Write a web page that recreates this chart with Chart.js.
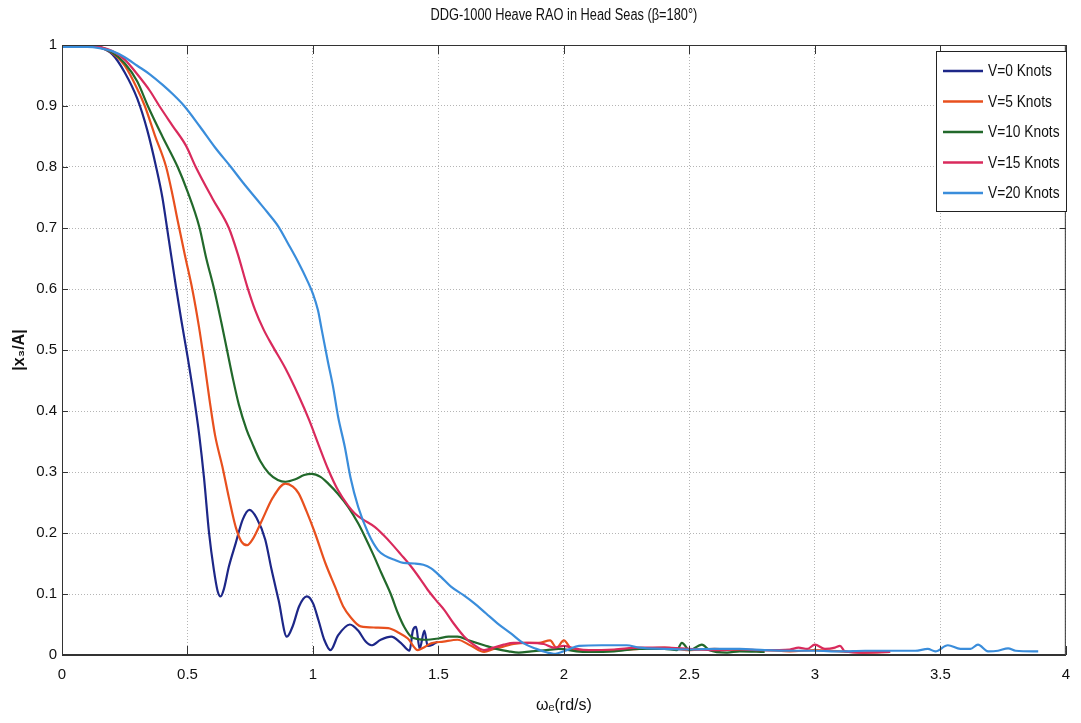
<!DOCTYPE html>
<html>
<head>
<meta charset="utf-8">
<script src="https://cdn.jsdelivr.net/npm/chart.js@4/dist/chart.umd.min.js"></script>
<style>
  html, body { margin: 0; padding: 0; background: #fff; }
  #wrap { width: 1081px; height: 723px; position: relative; }
</style>
</head>
<body>
<div id="wrap"><canvas id="rao"></canvas></div>
<script>
// Heave RAO curves, [omega_e, |x3/A|]
const v0 = [[0,1],[0.1,1],[0.15,0.996],[0.2,0.985],[0.25,0.955],[0.3,0.912],[0.34,0.86],[0.375,0.8],[0.4,0.75],[0.415,0.71],[0.435,0.655],[0.454,0.604],[0.475,0.55],[0.5,0.49],[0.525,0.425],[0.547,0.36],[0.566,0.29],[0.586,0.2],[0.605,0.14],[0.62,0.105],[0.632,0.096],[0.645,0.108],[0.665,0.145],[0.692,0.183],[0.72,0.222],[0.747,0.238],[0.775,0.225],[0.81,0.189],[0.835,0.14],[0.863,0.09],[0.896,0.03],[0.92,0.048],[0.945,0.08],[0.976,0.096],[1.0,0.085],[1.022,0.057],[1.045,0.025],[1.07,0.008],[1.1,0.032],[1.147,0.05],[1.18,0.04],[1.21,0.022],[1.233,0.016],[1.27,0.025],[1.312,0.03],[1.35,0.02],[1.385,0.007],[1.398,0.04],[1.411,0.046],[1.425,0.01],[1.444,0.04],[1.457,0.015],[1.477,0.017],[1.497,0.022]];

const v5 = [[0,1],[0.1,1],[0.15,0.996],[0.2,0.987],[0.25,0.966],[0.3,0.928],[0.33,0.9],[0.37,0.852],[0.415,0.8],[0.44,0.755],[0.461,0.712],[0.49,0.655],[0.52,0.598],[0.545,0.54],[0.567,0.48],[0.588,0.418],[0.61,0.36],[0.639,0.309],[0.665,0.258],[0.692,0.21],[0.715,0.186],[0.738,0.18],[0.76,0.19],[0.797,0.221],[0.84,0.258],[0.89,0.281],[0.92,0.276],[0.943,0.265],[0.975,0.235],[1.008,0.2],[1.05,0.15],[1.088,0.112],[1.12,0.08],[1.15,0.062],[1.19,0.047],[1.25,0.045],[1.3,0.044],[1.34,0.037],[1.378,0.027],[1.418,0.008],[1.44,0.012],[1.471,0.019],[1.52,0.022],[1.576,0.025],[1.63,0.015],[1.682,0.005],[1.72,0.01],[1.761,0.014],[1.8,0.018],[1.85,0.02],[1.9,0.02],[1.945,0.024],[1.97,0.012],[2.0,0.024],[2.03,0.01],[2.1,0.007],[2.2,0.008],[2.3,0.01],[2.4,0.012],[2.5,0.008],[2.6,0.01],[2.7,0.008],[2.8,0.008],[2.9,0.006],[3.0,0.008],[3.1,0.006],[3.2,0.004],[3.3,0.005]];

const v10 = [[0,1],[0.1,1],[0.15,0.997],[0.2,0.988],[0.25,0.97],[0.3,0.94],[0.342,0.9],[0.4,0.85],[0.461,0.8],[0.5,0.76],[0.547,0.702],[0.575,0.65],[0.606,0.6],[0.635,0.545],[0.66,0.495],[0.68,0.455],[0.705,0.41],[0.735,0.37],[0.758,0.347],[0.79,0.318],[0.824,0.298],[0.86,0.287],[0.89,0.284],[0.93,0.288],[0.965,0.295],[0.995,0.297],[1.03,0.292],[1.061,0.281],[1.1,0.264],[1.14,0.243],[1.18,0.216],[1.207,0.194],[1.24,0.165],[1.273,0.134],[1.31,0.1],[1.339,0.068],[1.365,0.045],[1.391,0.03],[1.42,0.026],[1.444,0.025],[1.5,0.027],[1.54,0.03],[1.576,0.03],[1.62,0.024],[1.682,0.016],[1.73,0.01],[1.78,0.006],[1.82,0.004],[1.87,0.006],[1.93,0.008],[1.98,0.01],[2.05,0.006],[2.1,0.005],[2.2,0.006],[2.3,0.01],[2.4,0.01],[2.45,0.008],[2.47,0.02],[2.5,0.008],[2.55,0.017],[2.58,0.008],[2.65,0.004],[2.7,0.006],[2.8,0.005]];

const v15 = [[0,1],[0.1,1],[0.15,0.997],[0.2,0.99],[0.25,0.976],[0.3,0.952],[0.35,0.925],[0.388,0.9],[0.44,0.868],[0.494,0.835],[0.533,0.8],[0.6,0.748],[0.665,0.7],[0.7,0.658],[0.738,0.604],[0.77,0.565],[0.804,0.533],[0.837,0.508],[0.89,0.47],[0.943,0.425],[0.985,0.385],[1.022,0.345],[1.06,0.305],[1.1,0.27],[1.14,0.245],[1.167,0.232],[1.2,0.222],[1.246,0.21],[1.28,0.197],[1.312,0.183],[1.35,0.165],[1.391,0.145],[1.425,0.126],[1.457,0.107],[1.49,0.09],[1.523,0.074],[1.56,0.052],[1.603,0.03],[1.64,0.017],[1.682,0.008],[1.72,0.012],[1.76,0.017],[1.8,0.02],[1.86,0.02],[1.92,0.018],[1.96,0.012],[2.0,0.015],[2.05,0.01],[2.1,0.008],[2.2,0.009],[2.3,0.012],[2.4,0.012],[2.5,0.01],[2.6,0.008],[2.7,0.009],[2.8,0.008],[2.9,0.009],[2.935,0.012],[2.97,0.01],[3.0,0.017],[3.04,0.01],[3.08,0.012],[3.1,0.015],[3.12,0.006],[3.2,0.004],[3.3,0.005]];

const v20 = [[0,0.997],[0.1,0.997],[0.15,0.995],[0.2,0.99],[0.25,0.98],[0.3,0.966],[0.35,0.952],[0.4,0.935],[0.44,0.92],[0.487,0.9],[0.55,0.866],[0.61,0.832],[0.673,0.8],[0.72,0.775],[0.78,0.745],[0.82,0.725],[0.863,0.702],[0.9,0.675],[0.94,0.645],[0.976,0.615],[1.0,0.592],[1.02,0.565],[1.035,0.533],[1.06,0.48],[1.08,0.44],[1.1,0.391],[1.127,0.341],[1.15,0.29],[1.18,0.243],[1.22,0.2],[1.259,0.172],[1.29,0.162],[1.325,0.156],[1.36,0.151],[1.405,0.15],[1.44,0.148],[1.471,0.142],[1.51,0.128],[1.55,0.112],[1.6,0.098],[1.642,0.085],[1.69,0.068],[1.735,0.052],[1.79,0.035],[1.84,0.019],[1.89,0.01],[1.933,0.004],[1.96,0.002],[2.012,0.008],[2.06,0.015],[2.15,0.016],[2.25,0.016],[2.3,0.012],[2.4,0.01],[2.5,0.009],[2.6,0.01],[2.7,0.01],[2.8,0.008],[2.9,0.007],[3.0,0.007],[3.1,0.006],[3.2,0.007],[3.3,0.007],[3.4,0.007],[3.45,0.01],[3.48,0.006],[3.53,0.016],[3.58,0.01],[3.62,0.01],[3.65,0.017],[3.69,0.006],[3.73,0.007],[3.77,0.011],[3.8,0.007],[3.89,0.006]];

const seriesNames = ['V=0 Knots', 'V=5 Knots', 'V=10 Knots', 'V=15 Knots', 'V=20 Knots'];
const seriesData = [v0, v5, v10, v15, v20];
const seriesColors = ['#1d2788', '#e8501e', '#22692b', '#d92a5c', '#3a8ddb'];

const xTicks = [0, 0.5, 1, 1.5, 2, 2.5, 3, 3.5, 4];
const yTicks = [0, 0.1, 0.2, 0.3, 0.4, 0.5, 0.6, 0.7, 0.8, 0.9, 1];
const chartTitle = 'DDG-1000 Heave RAO in Head Seas (\u03B2=180\u00B0)';

const FONT = "'Liberation Sans Narrow', 'Arial Narrow', 'Liberation Sans', Arial, sans-serif";

// draw text squeezed horizontally, to look like the narrow font of the original
function narrowText(ctx, text, x, y, squeeze) {
    ctx.save();
    ctx.translate(x, y);
    ctx.scale(squeeze, 1);
    ctx.fillText(text, 0, 0);
    ctx.restore();
}

// MATLAB-like box, inward ticks, title and legend
const matlabBox = {
    id: 'matlabBox',
    afterDatasetsDraw(chart) {
        const ctx = chart.ctx;
        const a = chart.chartArea;
        const xs = chart.scales.x, ys = chart.scales.y;
        ctx.save();
        ctx.strokeStyle = '#333';
        ctx.lineWidth = 1;
        ctx.strokeRect(a.left + 0.5, a.top + 0.5, a.right - a.left - 1, a.bottom - a.top - 1);
        ctx.beginPath();
        xTicks.forEach(v => {
            const px = Math.round(xs.getPixelForValue(v)) + 0.5;
            ctx.moveTo(px, a.bottom); ctx.lineTo(px, a.bottom - 9);
            ctx.moveTo(px, a.top); ctx.lineTo(px, a.top + 9);
        });
        yTicks.forEach(v => {
            const py = Math.round(ys.getPixelForValue(v)) + 0.5;
            ctx.moveTo(a.left, py); ctx.lineTo(a.left + 6, py);
            ctx.moveTo(a.right, py); ctx.lineTo(a.right - 6, py);
        });
        ctx.stroke();

        // title, centred on the plot area
        ctx.fillStyle = '#111';
        ctx.font = '16px ' + FONT;
        ctx.textBaseline = 'middle';
        ctx.textAlign = 'left';
        const sq = 0.8;
        const tw = ctx.measureText(chartTitle).width * sq;
        narrowText(ctx, chartTitle, (a.left + a.right) / 2 - tw / 2, 16, sq);

        // legend box
        const lx = 936, ly = 51, lw = 130, lh = 160;
        ctx.fillStyle = '#fff';
        ctx.fillRect(lx, ly, lw, lh);
        ctx.strokeStyle = '#222';
        ctx.strokeRect(lx + 0.5, ly + 0.5, lw, lh);
        ctx.font = '16px ' + FONT;
        chart.data.datasets.forEach((ds, i) => {
            const yy = ly + 20 + i * 30.5;
            ctx.strokeStyle = ds.borderColor;
            ctx.lineWidth = 2.5;
            ctx.beginPath();
            ctx.moveTo(943, yy); ctx.lineTo(983, yy);
            ctx.stroke();
            ctx.fillStyle = '#111';
            narrowText(ctx, ds.label, 988, yy + 1, 0.86);
        });
        ctx.restore();
    }
};

const datasets = seriesData.map((pts, i) => ({
    label: seriesNames[i],
    data: pts.map(p => ({ x: p[0], y: p[1] })),
    borderColor: seriesColors[i],
    backgroundColor: seriesColors[i],
    borderWidth: 2.2,
    pointRadius: 0,
    cubicInterpolationMode: 'monotone',
    fill: false,
    order: seriesData.length - i
}));

const tickLabel = v => String(+Number(v).toFixed(2));

new Chart(document.getElementById('rao').getContext('2d'), {
    type: 'line',
    data: { datasets: datasets },
    options: {
        responsive: true,
        maintainAspectRatio: false,
        animation: false,
        layout: { padding: { left: 0, right: 9, top: 45, bottom: 0 } },
        plugins: {
            legend: { display: false },
            tooltip: { enabled: false },
            title: { display: false }
        },
        scales: {
            x: {
                type: 'linear',
                min: 0,
                max: 4,
                afterBuildTicks: s => { s.ticks = xTicks.map(v => ({ value: v })); },
                afterFit: s => { s.height = 68; },
                grid: { color: '#b5b5b5', lineWidth: 1, drawTicks: false },
                border: { display: true, color: '#333', dash: [1, 2] },
                ticks: { color: '#111', padding: 11, font: { family: FONT, size: 15 }, callback: tickLabel },
                title: {
                    display: true,
                    text: '\u03C9\u2091(rd/s)',
                    color: '#111',
                    font: { family: FONT, size: 16 },
                    padding: { top: 0, bottom: 8 }
                }
            },
            y: {
                type: 'linear',
                min: 0,
                max: 1,
                afterBuildTicks: s => { s.ticks = yTicks.map(v => ({ value: v })); },
                afterFit: s => { s.width = 62; },
                grid: { color: '#b5b5b5', lineWidth: 1, drawTicks: false },
                border: { display: true, color: '#333', dash: [1, 2] },
                ticks: { color: '#111', padding: 5, font: { family: FONT, size: 15 }, callback: tickLabel },
                title: {
                    display: true,
                    text: '|x\u2083/A|',
                    color: '#111',
                    font: { family: FONT, size: 16, weight: 'bold' },
                    padding: { top: 10, bottom: 0 }
                }
            }
        }
    },
    plugins: [matlabBox]
});
</script>
</body>
</html>
